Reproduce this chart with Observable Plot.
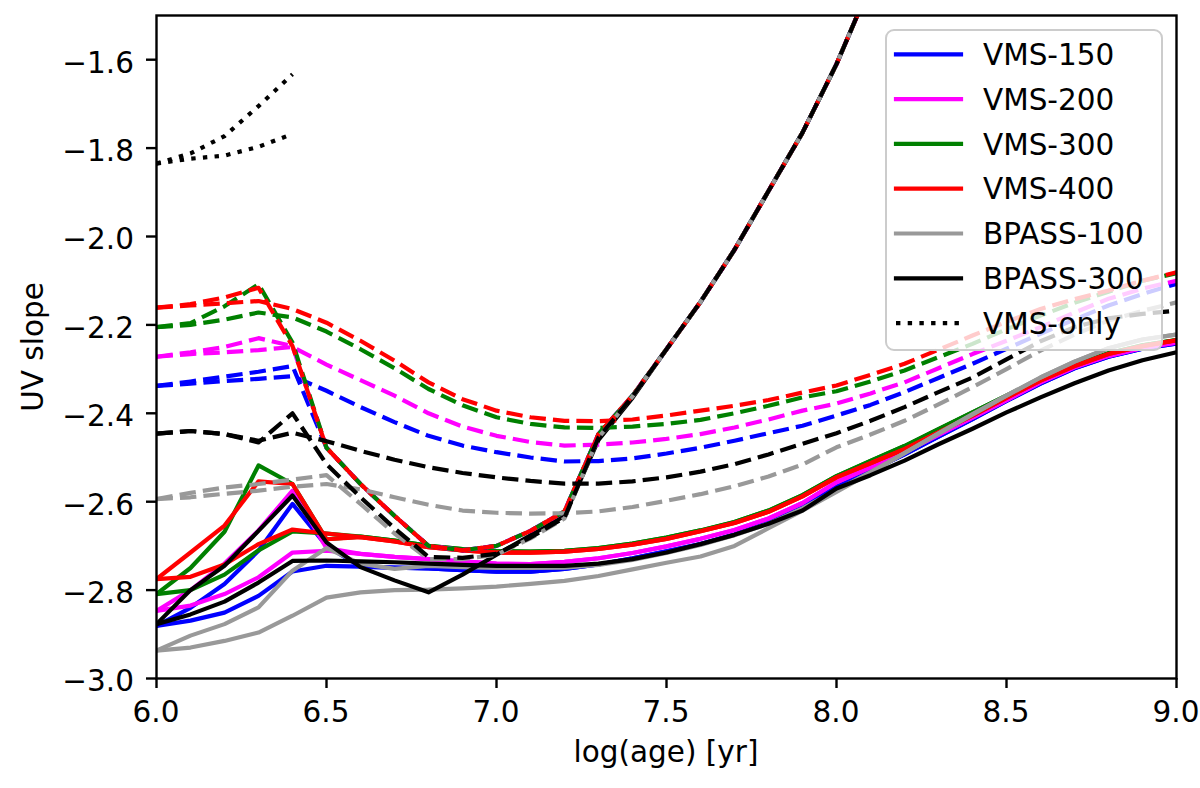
<!DOCTYPE html>
<html>
<head>
<meta charset="utf-8">
<script src="https://cdn.jsdelivr.net/npm/d3@7"></script>
<script src="https://cdn.jsdelivr.net/npm/@observablehq/plot@0.6"></script>
<style>
  html, body { margin: 0; padding: 0; background: white; }
  #chart { width: 1200px; height: 788px; }
  #chart svg text.lbl { font-family: "DejaVu Sans", sans-serif; font-size: 29.5px; }
</style>
</head>
<body>
<div id="chart"></div>
<script>
// log(age) grid, 0.1 dex steps
var ages = [6.0, 6.1, 6.2, 6.3, 6.4, 6.5, 6.6, 6.7, 6.8, 6.9, 7.0, 7.1, 7.2, 7.3, 7.4, 7.5,
            7.6, 7.7, 7.8, 7.9, 8.0, 8.1, 8.2, 8.3, 8.4, 8.5, 8.6, 8.7, 8.8, 8.9, 9.0];

var xTicks = [6.0, 6.5, 7.0, 7.5, 8.0, 8.5, 9.0];
var yTicks = [-3.0, -2.8, -2.6, -2.4, -2.2, -2.0, -1.8, -1.6];

// dashed, smooth variant (full age range)
var vms150DashA = [-2.338, -2.333, -2.327, -2.322, -2.316, -2.349, -2.386, -2.42, -2.451, -2.473, -2.488, -2.50, -2.509, -2.508, -2.502, -2.491,
                   -2.478, -2.462, -2.445, -2.428, -2.405, -2.381, -2.352, -2.32, -2.288, -2.254, -2.22, -2.188, -2.156, -2.13, -2.107];
var vms200DashA = [-2.272, -2.266, -2.262, -2.257, -2.25, -2.29, -2.325, -2.36, -2.40, -2.43, -2.451, -2.465, -2.473, -2.471, -2.466, -2.458,
                   -2.447, -2.432, -2.414, -2.394, -2.378, -2.355, -2.33, -2.298, -2.266, -2.236, -2.205, -2.172, -2.141, -2.118, -2.10];
var vms300DashA = [-2.205, -2.20, -2.188, -2.172, -2.183, -2.215, -2.255, -2.298, -2.345, -2.382, -2.409, -2.424, -2.432, -2.433, -2.43, -2.424,
                   -2.415, -2.40, -2.383, -2.364, -2.35, -2.328, -2.303, -2.273, -2.243, -2.21, -2.179, -2.15, -2.125, -2.10, -2.083];
var vms400DashA = [-2.161, -2.156, -2.151, -2.146, -2.164, -2.195, -2.236, -2.281, -2.33, -2.368, -2.394, -2.409, -2.417, -2.418, -2.414, -2.405,
                   -2.394, -2.383, -2.37, -2.353, -2.337, -2.313, -2.288, -2.256, -2.224, -2.193, -2.164, -2.142, -2.122, -2.10, -2.081];
var bpass100DashA = [-2.594, -2.59, -2.582, -2.575, -2.566, -2.56, -2.572, -2.59, -2.607, -2.62, -2.625, -2.627, -2.626, -2.622, -2.612, -2.598,
                     -2.583, -2.565, -2.543, -2.516, -2.477, -2.448, -2.417, -2.38, -2.341, -2.30, -2.258, -2.222, -2.19, -2.168, -2.149];
var bpass300DashA = [-2.446, -2.44, -2.447, -2.462, -2.444, -2.463, -2.485, -2.505, -2.522, -2.535, -2.545, -2.553, -2.559, -2.559, -2.554, -2.545,
                     -2.532, -2.515, -2.493, -2.469, -2.445, -2.417, -2.386, -2.352, -2.319, -2.278, -2.237, -2.205, -2.185, -2.175, -2.168];

// dashed, second variant: 6.0-6.4, then the shared steep track (6.5-8.2)
var vms150DashEarly = [-2.338, -2.328, -2.317, -2.306, -2.293];
var vms200DashEarly = [-2.272, -2.262, -2.25, -2.23, -2.248];
var vms300DashEarly = [-2.205, -2.196, -2.158, -2.108, -2.24];
var vms400DashEarly = [-2.161, -2.153, -2.138, -2.116, -2.248];
var vmsSteepTail = [-2.478, -2.56, -2.632, -2.70, -2.71, -2.70, -2.666, -2.622, -2.447, -2.36, -2.255, -2.148, -2.03, -1.897, -1.765, -1.61, -1.43, -1.24];
var bpass100DashB = [-2.594, -2.58, -2.568, -2.56, -2.55, -2.54, -2.605, -2.672, -2.73, -2.73, -2.72, -2.683, -2.638, -2.455, -2.362, -2.255,
                     -2.148, -2.03, -1.897, -1.765, -1.61, -1.43, -1.24];
var bpass300DashB = [-2.446, -2.44, -2.447, -2.466, -2.40, -2.515, -2.59, -2.66, -2.725, -2.727, -2.718, -2.681, -2.636, -2.455, -2.362, -2.255,
                     -2.148, -2.03, -1.897, -1.765, -1.61, -1.43, -1.24];

// solid, smooth variant
var vms150SolidA = [-2.881, -2.869, -2.851, -2.813, -2.758, -2.745, -2.747, -2.749, -2.751, -2.755, -2.758, -2.758, -2.752, -2.742, -2.728, -2.712,
                    -2.696, -2.674, -2.647, -2.612, -2.566, -2.53, -2.493, -2.453, -2.413, -2.372, -2.333, -2.298, -2.272, -2.254, -2.242];
var vms200SolidA = [-2.847, -2.835, -2.809, -2.771, -2.715, -2.711, -2.718, -2.725, -2.73, -2.735, -2.74, -2.741, -2.736, -2.728, -2.716, -2.701,
                    -2.684, -2.664, -2.638, -2.603, -2.556, -2.522, -2.488, -2.449, -2.41, -2.37, -2.33, -2.296, -2.27, -2.252, -2.24];
var vms300SolidA = [-2.809, -2.80, -2.765, -2.71, -2.667, -2.672, -2.679, -2.688, -2.70, -2.707, -2.712, -2.713, -2.711, -2.705, -2.695, -2.681,
                    -2.665, -2.646, -2.62, -2.585, -2.542, -2.508, -2.474, -2.436, -2.398, -2.36, -2.323, -2.29, -2.264, -2.246, -2.234];
var vms400SolidA = [-2.775, -2.77, -2.742, -2.696, -2.663, -2.672, -2.68, -2.69, -2.703, -2.71, -2.715, -2.715, -2.713, -2.707, -2.697, -2.684,
                    -2.667, -2.648, -2.623, -2.588, -2.545, -2.513, -2.481, -2.443, -2.405, -2.365, -2.326, -2.293, -2.266, -2.248, -2.235];
var bpass100SolidA = [-2.937, -2.93, -2.915, -2.896, -2.858, -2.817, -2.805, -2.80, -2.799, -2.796, -2.792, -2.786, -2.779, -2.768, -2.753, -2.738,
                      -2.724, -2.70, -2.66, -2.62, -2.578, -2.535, -2.49, -2.445, -2.402, -2.36, -2.319, -2.283, -2.253, -2.233, -2.222];
var bpass300SolidA = [-2.877, -2.855, -2.826, -2.783, -2.734, -2.733, -2.735, -2.737, -2.74, -2.743, -2.745, -2.745, -2.745, -2.74, -2.73, -2.715,
                      -2.696, -2.675, -2.65, -2.62, -2.57, -2.54, -2.507, -2.47, -2.435, -2.398, -2.364, -2.332, -2.303, -2.28, -2.262];

// solid, peaked variant: early part, afterwards it runs with the smooth one
var vms150SolidPeak = [-2.881, -2.84, -2.786, -2.711, -2.605, -2.70];
var vms200SolidPeak = [-2.847, -2.80, -2.74, -2.665, -2.575, -2.705];
var vms300SolidPeak = [-2.809, -2.75, -2.668, -2.518, -2.56, -2.685];
var vms400SolidPeak = [-2.775, -2.715, -2.654, -2.554, -2.56, -2.685];
var bpass100SolidB = [-2.937, -2.903, -2.877, -2.839, -2.756, -2.705, -2.74, -2.752, -2.745, -2.748, -2.75, -2.75, -2.749, -2.743, -2.732, -2.716,
                      -2.698, -2.676, -2.65, -2.615, -2.574, -2.533, -2.49, -2.446, -2.403, -2.36, -2.319, -2.283, -2.253, -2.233, -2.222];
var bpass300SolidB = [-2.877, -2.80, -2.745, -2.666, -2.586, -2.692, -2.748, -2.778, -2.805, -2.765, -2.72, -2.676, -2.632, -2.46, -2.365, -2.255,
                      -2.148, -2.03, -1.897, -1.765, -1.61, -1.43, -1.24];

// VMS-only (dotted)
var vmsOnlyA = [-1.835, -1.812, -1.773, -1.705, -1.633];
var vmsOnlyB = [-1.835, -1.824, -1.817, -1.797, -1.768];

var models = [
  {name: "VMS-150", color: "#0000ff",
   solid: [vms150SolidA, vms150SolidPeak.concat(vms150SolidA.slice(6))],
   dashed: [vms150DashA, vms150DashEarly.concat(vmsSteepTail)]},
  {name: "VMS-200", color: "#ff00ff",
   solid: [vms200SolidA, vms200SolidPeak.concat(vms200SolidA.slice(6))],
   dashed: [vms200DashA, vms200DashEarly.concat(vmsSteepTail)]},
  {name: "VMS-300", color: "#008000",
   solid: [vms300SolidA, vms300SolidPeak.concat(vms300SolidA.slice(6))],
   dashed: [vms300DashA, vms300DashEarly.concat(vmsSteepTail)]},
  {name: "VMS-400", color: "#ff0000",
   solid: [vms400SolidA, vms400SolidPeak.concat(vms400SolidA.slice(6))],
   dashed: [vms400DashA, vms400DashEarly.concat(vmsSteepTail)]},
  {name: "BPASS-100", color: "#999999",
   solid: [bpass100SolidA, bpass100SolidB],
   dashed: [bpass100DashA, bpass100DashB]},
  {name: "BPASS-300", color: "#000000",
   solid: [bpass300SolidA, bpass300SolidB],
   dashed: [bpass300DashA, bpass300DashB]}
];

var LW = 4.2;
var DASH = "16.4,7.1";
var DOT = "4.4,7.3";
var fmt = d3.format(".1f");

function rows(values) {
  return values.map(function(v, i) { return {age: ages[i], uv: v}; })
               .filter(function(d) { return d.uv != null; });
}

function lineMark(values, color, dash) {
  return Plot.line(rows(values), {
    x: "age", y: "uv", stroke: color, strokeWidth: LW,
    strokeDasharray: dash || null,
    strokeLinecap: dash ? "butt" : "round",
    strokeLinejoin: "round",
    clip: true
  });
}

var marks = [];
// solid lines first, then dashed, then dotted (drawing order of the original)
models.forEach(function(m) {
  m.solid.forEach(function(s) { marks.push(lineMark(s, m.color)); });
});
models.forEach(function(m) {
  m.dashed.forEach(function(s) { marks.push(lineMark(s, m.color, DASH)); });
});
marks.push(lineMark(vmsOnlyA, "#000000", DOT));
marks.push(lineMark(vmsOnlyB, "#000000", DOT));

marks.push(Plot.frame({stroke: "black", strokeWidth: 2.4}));
// tick marks only; the labels are written below at full size
marks.push(Plot.axisX({ticks: xTicks, tickSize: 10, strokeWidth: 2.4,
                       tickFormat: function() { return ""; }, label: null}));
marks.push(Plot.axisY({ticks: yTicks, tickSize: 10, strokeWidth: 2.4,
                       tickFormat: function() { return ""; }, label: null}));

var plot = Plot.plot({
  width: 1200,
  height: 788,
  marginLeft: 156,
  marginRight: 24,
  marginTop: 15,
  marginBottom: 110,
  x: {domain: [6, 9]},
  y: {domain: [-3, -1.5]},
  style: {fontFamily: "DejaVu Sans", background: "white", color: "black"},
  marks: marks
});

document.getElementById("chart").appendChild(plot);

var svg = d3.select(plot);
var sx = plot.scale("x"), sy = plot.scale("y");

// tick labels
xTicks.forEach(function(v) {
  svg.append("text").attr("class", "lbl")
    .attr("x", sx.apply(v)).attr("y", 722)
    .attr("text-anchor", "middle").attr("fill", "black")
    .text(fmt(v));
});
yTicks.forEach(function(v) {
  svg.append("text").attr("class", "lbl")
    .attr("x", 134).attr("y", sy.apply(v) + 13.3)
    .attr("text-anchor", "end").attr("fill", "black")
    .text(fmt(v));
});

// axis titles
svg.append("text").attr("class", "lbl")
  .attr("x", 666).attr("y", 762)
  .attr("text-anchor", "middle")
  .attr("fill", "black")
  .text("log(age) [yr]");
svg.append("text").attr("class", "lbl")
  .attr("transform", "translate(43,347) rotate(-90)")
  .attr("text-anchor", "middle")
  .attr("fill", "black")
  .text("UV slope");

// legend (solid handles + dotted VMS-only), semi-transparent box like matplotlib
var legendItems = models.map(function(m) { return {name: m.name, color: m.color, dash: null}; });
legendItems.push({name: "VMS-only", color: "#000000", dash: DOT});

var lg = svg.append("g").attr("transform", "translate(886,30)");
lg.append("rect")
  .attr("x", 0).attr("y", 0).attr("width", 276).attr("height", 320)
  .attr("rx", 8).attr("ry", 8)
  .attr("fill", "white").attr("fill-opacity", 0.8)
  .attr("stroke", "#cccccc").attr("stroke-width", 2);
legendItems.forEach(function(it, i) {
  var cy = 24.3 + i * 44.8;
  lg.append("line")
    .attr("x1", 10).attr("x2", 75).attr("y1", cy).attr("y2", cy)
    .attr("stroke", it.color).attr("stroke-width", LW)
    .attr("stroke-dasharray", it.dash)
    .attr("stroke-linecap", it.dash ? "butt" : "square");
  lg.append("text").attr("class", "lbl")
    .attr("x", 97).attr("y", cy + 10.7)
    .attr("text-anchor", "start")
    .attr("fill", "black")
    .text(it.name);
});
</script>
</body>
</html>
